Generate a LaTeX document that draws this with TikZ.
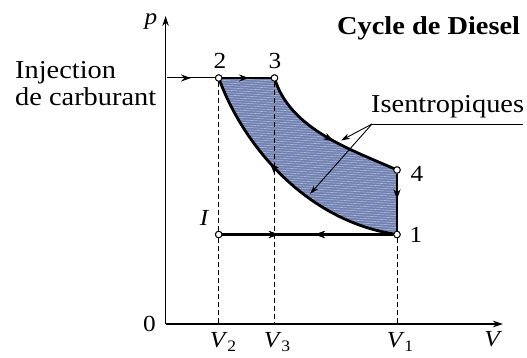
\documentclass[tikz,border=0pt]{standalone}
\usepackage{fontspec}
\setmainfont{Liberation Serif}[FakeStretch=1.1]
\usetikzlibrary{arrows.meta,decorations.markings}
\definecolor{shade}{RGB}{112,128,176}
\definecolor{hatch}{RGB}{170,182,214}
\newcommand{\Vsub}[1]{\textit{V}\kern-0.5pt\raisebox{-4pt}{\fontsize{16}{16}\selectfont #1}}
\tikzset{
  pt/.style={circle,draw,fill=white,inner sep=0pt,minimum size=6.5pt,line width=0.9pt},
  lbl/.style={font=\fontsize{23}{23}\selectfont,anchor=base,inner sep=0pt},
  big/.style={font=\fontsize{25.8}{25.8}\selectfont,anchor=base west,inner sep=0pt},
  axis/.style={line width=1.2pt},
  dsh/.style={line width=1pt,dash pattern=on 5pt off 3pt},
  tip/.style={-{Stealth[length=10pt,width=6.5pt]}},
  midarrow/.style={postaction={decorate},decoration={markings,mark=at position #1 with {\arrow{Stealth[length=10pt,width=7pt]}}}},
  midarrowrev/.style={postaction={decorate},decoration={markings,mark=at position #1 with {\arrowreversed{Stealth[length=10pt,width=7pt]}}}},
  curve/.style={line width=2.8pt},
  leader/.style={line width=0.9pt,-{Stealth[length=9pt,width=5.5pt]}}
}
\begin{document}
\begin{tikzpicture}[x=1pt,y=-1pt]
\useasboundingbox (0,0) rectangle (527,358);
% axes
\coordinate (O) at (165.6,324);
\coordinate (Ytop) at (165.6,16);
\coordinate (Xend) at (503,324);
\draw[axis,tip] (O) -- (Ytop);
\draw[axis,tip] (O) -- (Xend);
% axis feet
\coordinate (A2) at (218.7,324);
\coordinate (A3) at (274.5,324);
\coordinate (A1) at (397,324);
% points
\node[pt] (P2) at (218.7,78) {};
\node[pt] (P3) at (274.5,78) {};
\node[pt] (P4) at (397,170) {};
\node[pt] (P1) at (397,234.5) {};
\node[pt] (PI) at (218.7,234.5) {};
% shaded region
\path[fill=shade] (P2.center) -- (P3.center) .. controls (290,130) and (352,149.75) .. (P4.center)
  -- (P1.center) .. controls (310,222) and (245,150) .. (P2.center) -- cycle;
\begin{scope}
\clip (P2.center) -- (P3.center) .. controls (290,130) and (352,149.75) .. (P4.center)
  -- (P1.center) .. controls (310,222) and (245,150) .. (P2.center) -- cycle;
\foreach \k in {0,...,80} {
  \draw[hatch,line width=0.6pt] (210,70+2.4*\k) -- (410,82+2.4*\k);
}
\end{scope}
% dashed verticals
\draw[dsh] (P2) -- (PI);
\draw[dsh] (PI) -- (A2);
\draw[dsh] (P3) -- (A3);
\draw[dsh] (P1) -- (A1);
% cycle
\coordinate (Inj) at (167,78);
\draw[line width=1pt,midarrow=0.5] (Inj) -- (P2);
\draw[line width=1.8pt,midarrow=0.55] (P2) -- (P3);
\draw[curve,midarrow=0.56] (P3.center) .. controls (290,130) and (352,149.75) .. (P4.center);
\draw[line width=2pt,midarrow=0.45] (P4) -- (P1);
\draw[curve,midarrow=0.6] (P1.center) .. controls (310,222) and (245,150) .. (P2.center);
\draw[line width=2.2pt,midarrow=0.46,midarrowrev=0.67] (P1) -- (PI);
% redraw points on top
\foreach \n in {P2,P3,P4,P1,PI} { \node[pt] at (\n) {}; }
% leader for Isentropiques
\coordinate (L) at (372,124);
\coordinate (Lend) at (523,124);
\coordinate (Ta) at (341,140.5);
\coordinate (Tb) at (310,194);
\draw[line width=0.9pt] (L) -- (Lend);
\draw[leader] (L) -- (Ta);
\draw[leader] (L) -- (Tb);
% labels
\node[lbl] (l2) at (220,69) {2};
\node[lbl] (l3) at (275,69) {3};
\node[lbl] (l4) at (417,181.5) {4};
\node[lbl] (l1) at (416,242.5) {1};
\node[lbl] (l0) at (149.5,331) {0};
\node[lbl] (lI) at (204,225.8) {\itshape I};
\node[lbl] (lV2) at (223,347.8) {\Vsub{2}};
\node[lbl] (lV3) at (277,347.8) {\Vsub{3}};
\node[lbl] (lV1) at (400,347.8) {\Vsub{1}};
\node[lbl] (lV) at (492,346) {\itshape V};
\node[lbl] (lp) at (151,25) {\itshape p};
\node[big,font=\fontsize{25.8}{25.8}\selectfont\bfseries] (title) at (337,34.6) {Cycle de Diesel};
\node[big] (inj1) at (15,79) {Injection};
\node[big] (inj2) at (15,106) {de carburant};
\node[big] (isen) at (371,112.6) {Isentropiques};
\end{tikzpicture}
\end{document}
